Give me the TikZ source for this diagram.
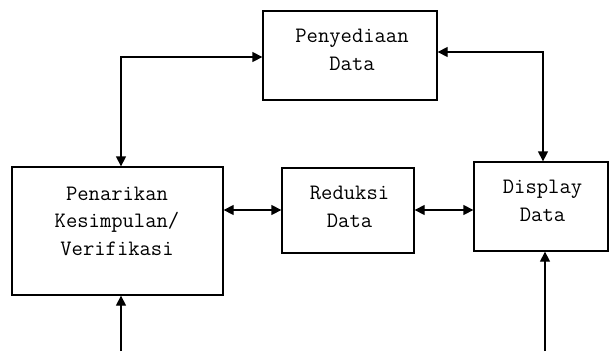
\documentclass[tikz,border=0pt]{standalone}
\usepackage{fontspec}
\usetikzlibrary{arrows.meta}
\begin{document}
\begin{tikzpicture}[x=1pt,y=-1pt,
  box/.style={draw, line width=1.3pt, inner sep=0pt},
  txt/.style={align=center, inner sep=0pt, anchor=base, font=\ttfamily\fontsize{22}{27.5}\selectfont},
  conn/.style={line width=1.3pt},
  dbl/.style={conn, {Triangle[length=10pt,width=10pt]}-{Triangle[length=10pt,width=10pt]}},
  sgl/.style={conn, -{Triangle[length=10pt,width=10pt]}}]
\useasboundingbox (0,0) rectangle (609,351);
% boxes
\node[box, minimum width=174pt, minimum height=89pt] (pny) at (350,55.5) {};
\node[box, minimum width=211pt, minimum height=128pt] (pen) at (117.5,231) {};
\node[box, minimum width=132pt, minimum height=85pt] (red) at (348,210.5) {};
\node[box, minimum width=134pt, minimum height=89pt] (dis) at (541,206.5) {};
% texts (anchored at the baseline of the last line)
\node[txt] (tpny) at (352,70) {Penyediaan\\Data};
\node[txt] (tpen) at (117,255) {Penarikan\\Kesimpulan/\\Verifikasi};
\node[txt] (tred) at (349.5,227) {Reduksi\\Data};
\node[txt] (tdis) at (542.5,221) {Display\\Data};
% connector points
\coordinate (c1) at (121,57);
\coordinate (c2) at (543,52);
\coordinate (h) at (0,210);
\coordinate (b1) at (121,351);
\coordinate (b2) at (545,351);
% connectors
\draw[dbl] (pny.west |- c1) -- (c1) -- (pen.north -| c1);
\draw[dbl] (pny.east |- c2) -- (c2) -- (dis.north -| c2);
\draw[dbl] (pen.east |- h) -- (red.west |- h);
\draw[dbl] (red.east |- h) -- (dis.west |- h);
\draw[sgl] (b1) -- (pen.south -| b1);
\draw[sgl] (b2) -- (dis.south -| b2);
\end{tikzpicture}
\end{document}
